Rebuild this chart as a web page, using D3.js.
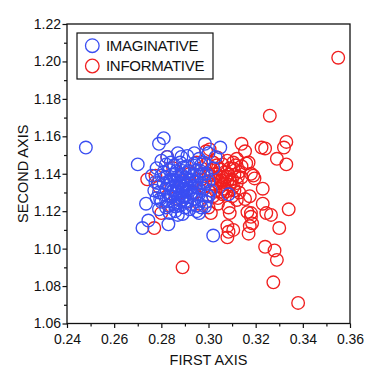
<!DOCTYPE html>
<html>
<head>
<meta charset="utf-8">
<script src="https://cdn.jsdelivr.net/npm/d3@7"></script>
<style>
  html, body { margin: 0; padding: 0; background: #fff; }
  svg text { font-family: "Liberation Sans", Arial, sans-serif; fill: #111; }
</style>
</head>
<body>
<svg id="chart" width="375" height="375"></svg>
<script>
// Series as [first axis, second axis]
const imaginative = [
    [0.248, 1.154], [0.270, 1.145], [0.272, 1.111], [0.2745, 1.115], [0.2735, 1.124],
    [0.277, 1.131], [0.278, 1.127], [0.279, 1.121], [0.279, 1.156], [0.281, 1.159],
    [0.302, 1.107], [0.3085, 1.129], [0.2985, 1.156], [0.305, 1.154], [0.283, 1.113],
    [0.287, 1.118], [0.296, 1.119], [0.300, 1.128], [0.301, 1.131], [0.300, 1.151],
    [0.303, 1.149], [0.302, 1.143], [0.276, 1.139], [0.278, 1.143], [0.280, 1.147],
    [0.2825, 1.149], [0.284, 1.146], [0.287, 1.151], [0.2885, 1.149], [0.291, 1.1495],
    [0.294, 1.151], [0.296, 1.148], [0.298, 1.146], [0.299, 1.140], [0.300, 1.136],
    [0.299, 1.125], [0.297, 1.122], [0.295, 1.120], [0.292, 1.121], [0.289, 1.1185],
    [0.286, 1.120], [0.2835, 1.119], [0.282, 1.122], [0.280, 1.125], [0.279, 1.130],
    [0.2785, 1.135], [0.280, 1.139],
    [0.282, 1.145], [0.2855, 1.1445], [0.288, 1.146], [0.291, 1.144], [0.294, 1.1455], [0.297, 1.145],
    [0.281, 1.141], [0.2835, 1.142], [0.286, 1.140], [0.289, 1.1415], [0.292, 1.141], [0.295, 1.142], [0.298, 1.140],
    [0.282, 1.138], [0.284, 1.137], [0.287, 1.1385], [0.290, 1.138], [0.293, 1.137], [0.296, 1.1385],
    [0.281, 1.135], [0.283, 1.134], [0.286, 1.136], [0.288, 1.135], [0.291, 1.134], [0.294, 1.1355], [0.297, 1.135],
    [0.282, 1.132], [0.285, 1.131], [0.287, 1.1325], [0.289, 1.132], [0.292, 1.131], [0.295, 1.1325], [0.298, 1.132],
    [0.281, 1.129], [0.284, 1.128], [0.286, 1.1295], [0.288, 1.129], [0.290, 1.128], [0.293, 1.1295], [0.296, 1.129],
    [0.282, 1.126], [0.285, 1.125], [0.287, 1.1265], [0.289, 1.126], [0.291, 1.125], [0.294, 1.1265], [0.297, 1.126],
    [0.283, 1.123], [0.286, 1.1225], [0.288, 1.123], [0.290, 1.122], [0.293, 1.1235], [0.295, 1.123],
    [0.2865, 1.1335], [0.2895, 1.1365], [0.2905, 1.1305], [0.2875, 1.1275], [0.2925, 1.1345],
    [0.2845, 1.1395], [0.2935, 1.1285], [0.2895, 1.1435], [0.2855, 1.1235], [0.2965, 1.1415],
    [0.2875, 1.1355], [0.2885, 1.1335], [0.2895, 1.1315], [0.2905, 1.1345], [0.2915, 1.1365],
    [0.2865, 1.1305], [0.2855, 1.1365], [0.2885, 1.1395], [0.2915, 1.1325], [0.2925, 1.1295],
    [0.2845, 1.1325], [0.2835, 1.1285], [0.2875, 1.1245], [0.2905, 1.1255], [0.2935, 1.1395],
    [0.2895, 1.1275], [0.2865, 1.1415], [0.2945, 1.1335], [0.2835, 1.1365], [0.2915, 1.1415],
    [0.2985, 1.1225], [0.2995, 1.1285], [0.2985, 1.1355], [0.2775, 1.1355], [0.2795, 1.1265]
];

const informative = [
    [0.355, 1.202], [0.326, 1.171], [0.289, 1.090], [0.338, 1.071], [0.3275, 1.082],
    [0.329, 1.094], [0.328, 1.099], [0.324, 1.101], [0.330, 1.111], [0.334, 1.121],
    [0.333, 1.157], [0.332, 1.154], [0.333, 1.145], [0.329, 1.148], [0.3225, 1.154],
    [0.324, 1.1535], [0.314, 1.156], [0.3155, 1.152], [0.323, 1.132], [0.323, 1.124],
    [0.3245, 1.119], [0.3265, 1.118], [0.319, 1.139], [0.3195, 1.1375], [0.318, 1.140],
    [0.317, 1.146], [0.316, 1.1455], [0.3175, 1.128], [0.3155, 1.1265], [0.3165, 1.1195],
    [0.318, 1.119], [0.3185, 1.1135], [0.3175, 1.112], [0.317, 1.108], [0.318, 1.117],
    [0.3105, 1.110], [0.308, 1.106], [0.309, 1.119], [0.3085, 1.122], [0.308, 1.112],
    [0.3085, 1.109], [0.304, 1.124], [0.302, 1.128], [0.277, 1.111], [0.274, 1.137],
    [0.2775, 1.139], [0.2825, 1.149], [0.3005, 1.153], [0.299, 1.152],
    [0.302, 1.146], [0.304, 1.1485], [0.306, 1.145], [0.308, 1.147], [0.3105, 1.146], [0.312, 1.148], [0.314, 1.144],
    [0.301, 1.142], [0.303, 1.140], [0.305, 1.1425], [0.307, 1.141], [0.309, 1.143], [0.311, 1.1395], [0.313, 1.141],
    [0.302, 1.137], [0.304, 1.135], [0.306, 1.138], [0.308, 1.136], [0.310, 1.137], [0.312, 1.135], [0.314, 1.138],
    [0.301, 1.133], [0.303, 1.131], [0.305, 1.133], [0.307, 1.132], [0.309, 1.134], [0.311, 1.131], [0.313, 1.130],
    [0.304, 1.127], [0.306, 1.129], [0.310, 1.128], [0.312, 1.126], [0.300, 1.139], [0.299, 1.145], [0.297, 1.143],
    [0.3105, 1.133], [0.3105, 1.1428], [0.3055, 1.1365], [0.3075, 1.1385],
    [0.3065, 1.1345], [0.3085, 1.1395], [0.3095, 1.1355], [0.3045, 1.1385], [0.3075, 1.1305],
    [0.3025, 1.1345], [0.3115, 1.1445], [0.3035, 1.1445], [0.3125, 1.1385], [0.3055, 1.1305],
    [0.279, 1.133], [0.283, 1.123], [0.286, 1.127], [0.289, 1.136], [0.292, 1.140],
    [0.294, 1.130], [0.296, 1.124], [0.298, 1.133], [0.285, 1.143], [0.291, 1.125],
    [0.297, 1.137], [0.280, 1.119], [0.295, 1.146], [0.300, 1.122], [0.301, 1.119]
];

const xTicks = [0.24, 0.26, 0.28, 0.30, 0.32, 0.34, 0.36];
const yTicks = [1.06, 1.08, 1.10, 1.12, 1.14, 1.16, 1.18, 1.20, 1.22];
const xMinor = [0.25, 0.27, 0.29, 0.31, 0.33, 0.35];
const yMinor = [1.07, 1.09, 1.11, 1.13, 1.15, 1.17, 1.19, 1.21];

const seriesNames = ['IMAGINATIVE', 'INFORMATIVE'];
const seriesColors = ['#3a4ef2', '#f01f1f'];

const margin = { top: 24, right: 25, bottom: 51.5, left: 67 };
const width = 375 - margin.left - margin.right;
const height = 375 - margin.top - margin.bottom;

const svg = d3.select('#chart');
const g = svg.append('g')
    .attr('transform', `translate(${margin.left},${margin.top})`);

const x = d3.scaleLinear().domain([0.24, 0.36]).range([0, width]);
const y = d3.scaleLinear().domain([1.06, 1.22]).range([height, 0]);

// minor ticks
g.append('g')
    .attr('transform', `translate(0,${height})`)
    .call(d3.axisBottom(x).tickValues(xMinor).tickSize(3).tickFormat(''))
    .call(a => a.select('.domain').remove());
g.append('g')
    .call(d3.axisLeft(y).tickValues(yMinor).tickSize(3).tickFormat(''))
    .call(a => a.select('.domain').remove());

// major ticks + labels
const xAxis = g.append('g')
    .attr('transform', `translate(0,${height})`)
    .call(d3.axisBottom(x).tickValues(xTicks).tickSize(4.5).tickPadding(6).tickFormat(d3.format('.2f')));
xAxis.select('.domain').remove();
xAxis.selectAll('text').style('font-size', '14px');

const yAxis = g.append('g')
    .call(d3.axisLeft(y).tickValues(yTicks).tickSize(4.5).tickPadding(1.5).tickFormat(d3.format('.2f')));
yAxis.select('.domain').remove();
yAxis.selectAll('text').style('font-size', '14px');

g.selectAll('.tick line').attr('stroke', '#111').attr('stroke-width', 1.2);

// plot frame
g.append('rect')
    .attr('width', width)
    .attr('height', height)
    .attr('fill', 'none')
    .attr('stroke', '#111')
    .attr('stroke-width', 1.3);

// points: informative first, imaginative on top
const plot = g.append('g');
plot.selectAll('.inf')
    .data(informative)
    .enter()
    .append('circle')
    .attr('class', 'inf')
    .attr('cx', d => x(d[0]))
    .attr('cy', d => y(d[1]))
    .attr('r', 6.3)
    .attr('fill', 'none')
    .attr('stroke', seriesColors[1])
    .attr('stroke-width', 1.35);

plot.selectAll('.img')
    .data(imaginative)
    .enter()
    .append('circle')
    .attr('class', 'img')
    .attr('cx', d => x(d[0]))
    .attr('cy', d => y(d[1]))
    .attr('r', 6.3)
    .attr('fill', 'none')
    .attr('stroke', seriesColors[0])
    .attr('stroke-width', 1.35);

// axis titles
svg.append('text')
    .attr('x', margin.left + width / 2)
    .attr('y', 365)
    .attr('text-anchor', 'middle')
    .style('font-size', '14.5px')
    .text('FIRST AXIS');

svg.append('text')
    .attr('transform', `translate(28,${margin.top + height / 2}) rotate(-90)`)
    .attr('text-anchor', 'middle')
    .style('font-size', '14.5px')
    .text('SECOND AXIS');

// legend
const legend = svg.append('g').attr('transform', 'translate(77,33)');
legend.append('rect')
    .attr('width', 136)
    .attr('height', 46)
    .attr('fill', '#fff')
    .attr('stroke', '#111')
    .attr('stroke-width', 1.2);

const items = legend.selectAll('.legend-item')
    .data(seriesNames)
    .enter()
    .append('g')
    .attr('class', 'legend-item')
    .attr('transform', (d, i) => `translate(0,${12.7 + i * 20.3})`);

items.append('circle')
    .attr('cx', 15.3)
    .attr('r', 6.8)
    .attr('fill', 'none')
    .attr('stroke', (d, i) => seriesColors[i])
    .attr('stroke-width', 1.3);

items.append('text')
    .attr('x', 29)
    .attr('dy', '0.36em')
    .style('font-size', '15px')
    .style('letter-spacing', '-0.3px')
    .text(d => d);
</script>
</body>
</html>
